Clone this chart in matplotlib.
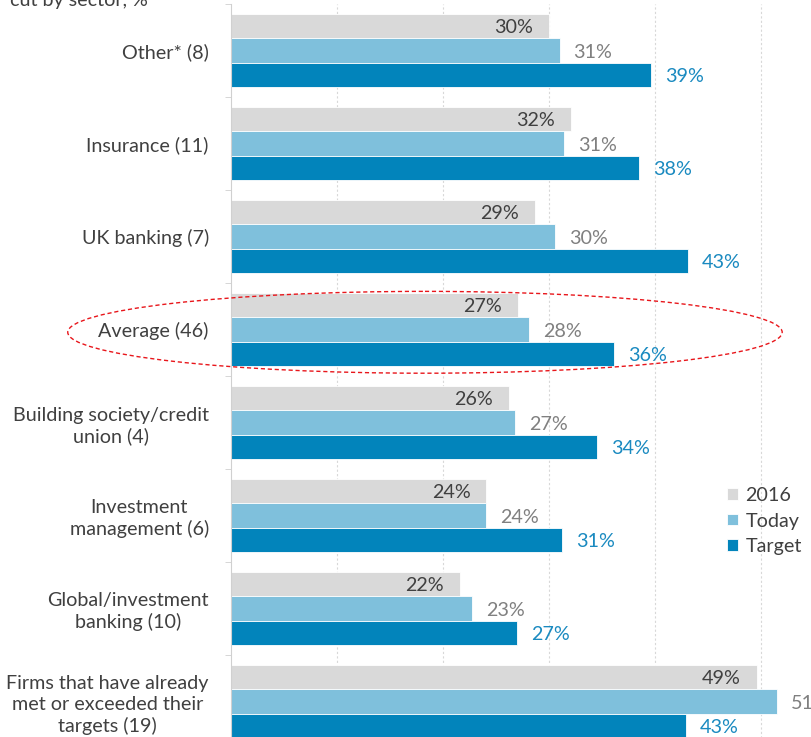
import matplotlib.pyplot as plt
from matplotlib.patches import Ellipse
import numpy as np

plt.rcParams['font.family'] = ['Lato', 'DejaVu Sans']

categories = ['Other* (8)', 'Insurance (11)', 'UK banking (7)', 'Average (46)',
              'Building society/credit\nunion (4)', 'Investment\nmanagement (6)',
              'Global/investment\nbanking (10)',
              'Firms that have already\nmet or exceeded their\ntargets (19)']
vals_2016 = [30.0, 32.1, 28.7, 27.1, 26.2, 24.1, 21.6, 49.6]
vals_today = [31.0, 31.4, 30.6, 28.1, 26.8, 24.1, 22.7, 51.5]
vals_target = [39.6, 38.5, 43.1, 36.1, 34.5, 31.2, 27.0, 42.9]
lbl_2016 = [30, 32, 29, 27, 26, 24, 22, 49]
lbl_today = [31, 31, 30, 28, 27, 24, 23, 51]
lbl_target = [39, 38, 43, 36, 34, 31, 27, 43]

c_2016, c_today, c_target = '#d9d9d9', '#7fc0dc', '#0284bb'
txt_dark = '#404040'
fs = 14.2

W, H = 812, 737
fig = plt.figure(figsize=(W / 100, H / 100), dpi=100)
# axes: x from 231px to right edge, y from 4px to 748px (past bottom)
ax = fig.add_axes([231 / W, 1 - 748 / H, 1 - 231 / W, 744 / H])

y = np.arange(len(categories))
h = 0.264
ax.barh(y - h, vals_2016, height=h, color=c_2016, edgecolor='white', linewidth=0.6, label='2016', zorder=2)
ax.barh(y, vals_today, height=h, color=c_today, edgecolor='white', linewidth=0.6, label='Today', zorder=2)
ax.barh(y + h, vals_target, height=h, color=c_target, edgecolor='white', linewidth=0.6, label='Target', zorder=2)

px = 10.6  # pixels per percent
for i in range(len(categories)):
    ax.text(vals_2016[i] - 16 / px, y[i] - h + 0.02, f'{lbl_2016[i]}%', ha='right', va='center',
            fontsize=fs, color=txt_dark, zorder=4)
    ax.text(vals_today[i] + 14 / px, y[i] + 0.02, f'{lbl_today[i]}%', ha='left', va='center',
            fontsize=fs, color='#808080', zorder=4)
    ax.text(vals_target[i] + 14 / px, y[i] + h + 0.02, f'{lbl_target[i]}%', ha='left', va='center',
            fontsize=fs, color='#1a8ac0', zorder=4)

ax.set_xlim(0, (W - 231) / px)
ax.set_ylim(7.5, -0.5)
ax.set_xticks([10, 20, 30, 40, 50])
ax.tick_params(axis='x', length=0, labelbottom=False)
ax.grid(axis='x', color='#c8c8c8', linestyle=(0, (2, 2)), linewidth=0.8, zorder=3, alpha=0.7)

ax.set_yticks(y)
ax.set_yticklabels(categories, fontsize=fs, color=txt_dark, multialignment='center', linespacing=1.25)
ax.tick_params(axis='y', length=0, pad=16)
ax.set_yticks(np.arange(-0.5, 8, 1), minor=True)
ax.tick_params(axis='y', which='minor', length=4, color='#d0d0d0', direction='out')
for s in ['top', 'right', 'bottom']:
    ax.spines[s].set_visible(False)
ax.spines['left'].set_color('#d0d0d0')

# highlight around the average row
ell = Ellipse((18.3, 3.03), 67.4, 0.88, fill=False, edgecolor='#e8161b',
              linestyle=(0, (3, 2)), linewidth=1.0, clip_on=False, zorder=5)
ax.add_patch(ell)

ax.legend(loc='center left', bbox_to_anchor=(717 / W, 1 - 521 / H), bbox_transform=fig.transFigure,
          frameon=False, fontsize=fs, handlelength=0.55, handleheight=0.55, handletextpad=0.4,
          labelspacing=0.45, labelcolor=txt_dark, borderpad=0)

fig.text(10 / W, 1 - 6 / H, 'cut by sector, %', fontsize=fs, color=txt_dark, va='baseline')

fig.savefig('out.png', dpi=100)
